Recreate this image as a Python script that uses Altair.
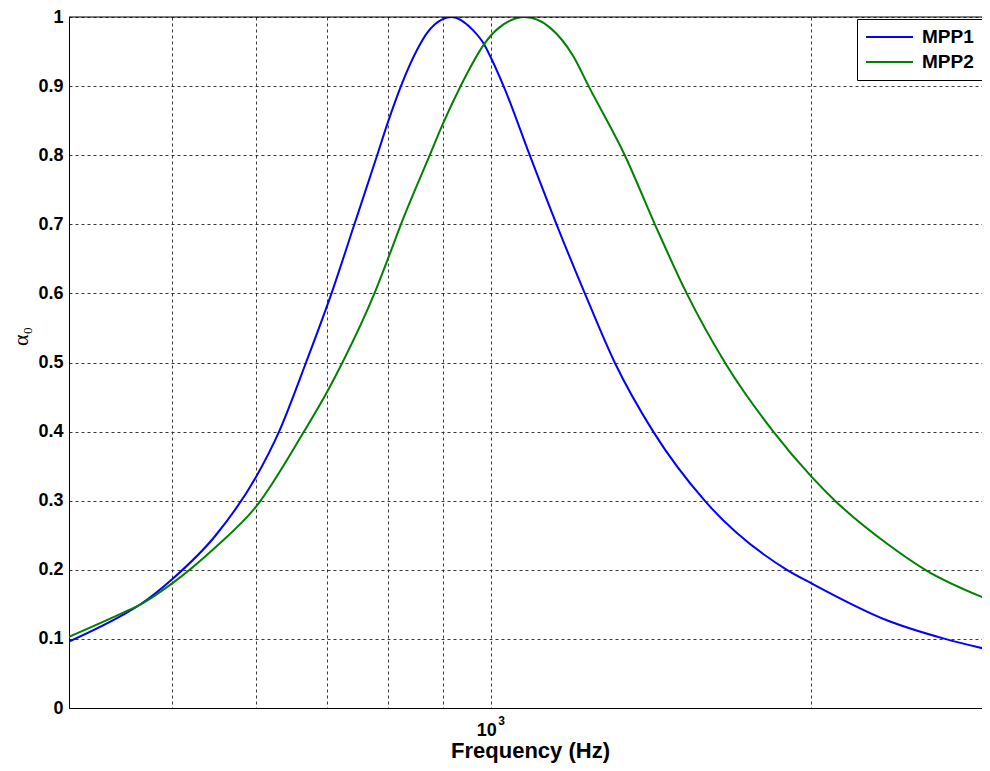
import altair as alt
import pandas as pd

# ---- data ----
series_names = ["MPP1", "MPP2"]
series_colors = ["#0000ff", "#008000"]

mpp1_freq = [400, 450, 466, 500, 550, 600, 631, 669, 707, 743, 778, 800, 822, 853,
             870, 900, 917, 961, 985, 1000, 1027, 1087, 1152, 1225, 1307, 1421,
             1589, 1899, 2000, 2359, 2677, 2950]
mpp1_alpha = [0.096, 0.135, 0.149, 0.186, 0.250, 0.334, 0.400, 0.500, 0.600, 0.700,
              0.793, 0.850, 0.900, 0.955, 0.977, 0.997, 1.000, 0.981, 0.960, 0.940,
              0.900, 0.800, 0.700, 0.600, 0.500, 0.400, 0.300, 0.200, 0.181, 0.127,
              0.100, 0.084]

mpp2_freq = [400, 450, 466, 500, 550, 600, 666, 700, 724, 776, 800, 822, 875, 900,
             937, 985, 1000, 1018, 1075, 1135, 1194, 1235, 1336, 1426, 1528, 1660,
             1844, 2000, 2108, 2359, 2564, 2950]
mpp2_alpha = [0.103, 0.138, 0.149, 0.180, 0.233, 0.291, 0.400, 0.457, 0.500, 0.600,
              0.652, 0.700, 0.800, 0.845, 0.902, 0.961, 0.974, 0.985, 1.000, 0.985,
              0.944, 0.900, 0.800, 0.700, 0.600, 0.500, 0.400, 0.336, 0.300, 0.238,
              0.200, 0.156]

x_ticks = [400, 500, 600, 700, 800, 900, 1000, 2000]
y_ticks = [0, 0.1, 0.2, 0.3, 0.4, 0.5, 0.6, 0.7, 0.8, 0.9, 1.0]
x_domain = [400, 2900]
y_domain = [0, 1]
decade_tick = [1000]

df = pd.concat([
    pd.DataFrame({"freq": mpp1_freq, "alpha": mpp1_alpha, "series": series_names[0]}),
    pd.DataFrame({"freq": mpp2_freq, "alpha": mpp2_alpha, "series": series_names[1]}),
], ignore_index=True)

W, H = 913, 691
FONT = "Liberation Sans"

x_scale = alt.Scale(type="log", domain=x_domain, nice=False)

lines = alt.Chart(df).mark_line(strokeWidth=2, interpolate="monotone", clip=True).encode(
    x=alt.X(
        "freq:Q",
        scale=x_scale,
        axis=alt.Axis(
            values=x_ticks,
            labelExpr="datum.value == 1000 ? '10' : ''",
            labelOffset=-5,
            title="Frequency (Hz)",
            titleX=461, titleY=49, titleBaseline="alphabetic", titleAlign="center",
            titleFontSize=22, labelFontSize=18, labelPadding=13,
        ),
    ),
    y=alt.Y(
        "alpha:Q",
        scale=alt.Scale(domain=y_domain, nice=False),
        axis=alt.Axis(
            values=y_ticks, format=".1~f",
            title="α₀",
            titleFont="Liberation Serif", titleFontWeight="normal", titleFontSize=22,
            titleAngle=270, titleX=-49, titleY=319, titleAlign="center",
            titleBaseline="middle",
            labelFontSize=18, labelPadding=6,
        ),
    ),
    color=alt.Color(
        "series:N",
        scale=alt.Scale(domain=series_names, range=series_colors),
        legend=alt.Legend(
            title=None, orient="none", legendX=788, legendY=2,
            symbolType="stroke", symbolSize=2209, symbolStrokeWidth=2,
            clipHeight=20, rowPadding=5,
            labelFont=FONT, labelFontWeight="bold", labelFontSize=19,
            labelOffset=8, labelColor="black",
            strokeColor="black", fillColor="white", padding=8, cornerRadius=0,
        ),
    ),
)

# superscript exponent of the 10^3 tick label
exponent = alt.Chart(pd.DataFrame({"freq": decade_tick, "exp": ["3"]})).mark_text(
    font=FONT, fontWeight="bold", fontSize=12, color="black",
    align="left", baseline="alphabetic", dx=7,
).encode(
    x=alt.X("freq:Q", scale=x_scale),
    y=alt.value(H + 17),
    text="exp:N",
)

top_border = alt.Chart(pd.DataFrame({"k": [0]})).mark_rule(color="black", strokeWidth=1).encode(
    x=alt.value(0), x2=alt.value(W), y=alt.value(0)
)

chart = alt.layer(lines, exponent, top_border).properties(
    width=W, height=H,
    autosize=alt.AutoSizeParams(type="none"),
    padding={"left": 61, "top": 9, "right": 0, "bottom": 55},
    background="white",
).configure_view(
    stroke=None
).configure_axis(
    labelFont=FONT, labelFontWeight="bold", labelColor="black",
    titleFont=FONT, titleFontWeight="bold", titleColor="black",
    domainColor="black", domainWidth=1,
    ticks=False, tickSize=0,
    grid=True, gridColor="#222222", gridDash=[3, 3], gridWidth=1, gridOpacity=0.9,
)

chart.save("out.html", embed_options={"renderer": "svg", "actions": False})
